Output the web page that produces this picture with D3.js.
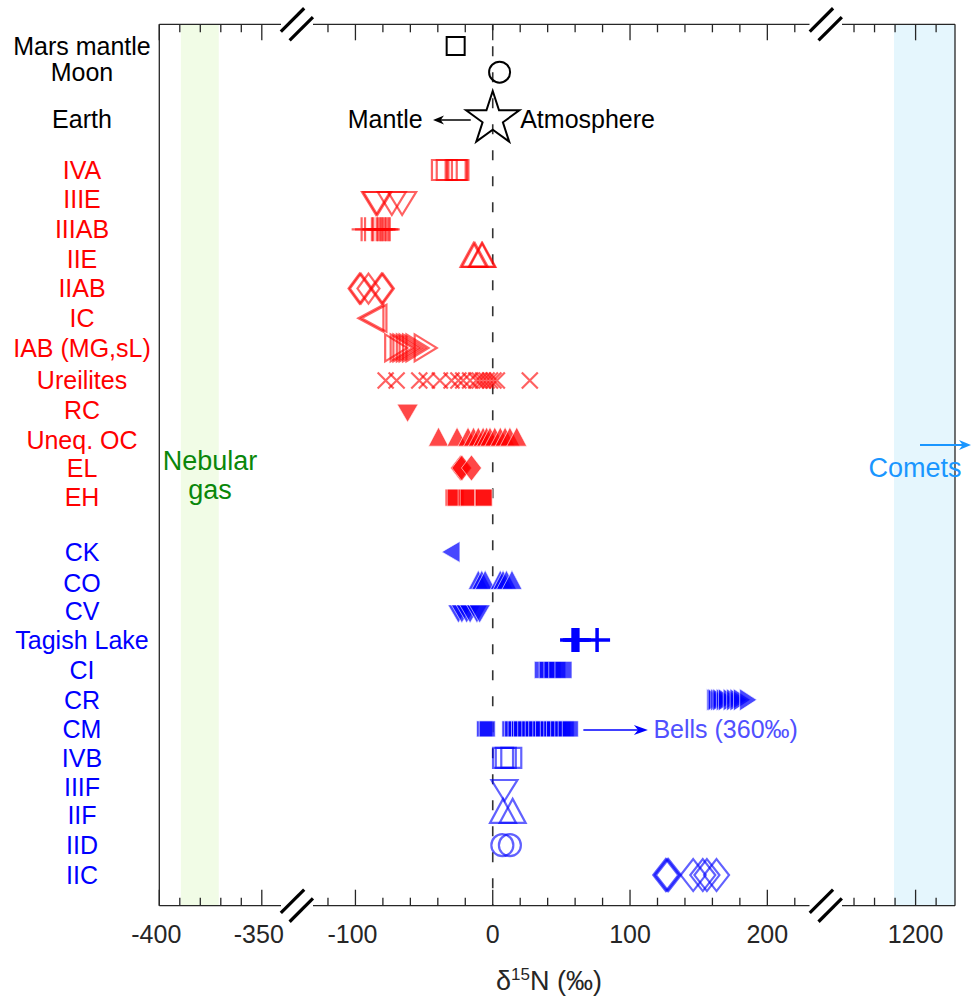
<!DOCTYPE html>
<html><head><meta charset="utf-8">
<script src="https://cdn.jsdelivr.net/npm/d3@7"></script>
<style>body{margin:0;background:#fff}svg{display:block}text{font-family:"Liberation Sans",Arial,Helvetica,sans-serif}</style>
</head><body><svg id="c" width="971" height="998"></svg>
<script>
// ---------------- DATA ----------------
const categories = ["Mars mantle","Moon","Earth","IVA","IIIE","IIIAB","IIE","IIAB","IC","IAB (MG,sL)","Ureilites","RC","Uneq. OC","EL","EH","CK","CO","CV","Tagish Lake","CI","CR","CM","IVB","IIIF","IIF","IID","IIC"];
const categoryGroup = ["planet","planet","planet","NC","NC","NC","NC","NC","NC","NC","NC","NC","NC","NC","NC","CC","CC","CC","CC","CC","CC","CC","CC","CC","CC","CC","CC"];
const categoryRow = [-4.18,-3.3,-1.72,0,1,2,3,4,5,6,7.1,8.1,9.1,10.05,11.05,12.88,13.93,14.87,15.85,16.86,17.87,18.85,19.83,20.81,21.75,22.77,23.78];

const marsMantle = [-27];
const moon = [5];
const earth = [0];
const iva = [-37, -33.5, -27, -26, -25];
const iiie = [-85, -84, -73.5, -66];
const iiiab = [-95.5, -93, -88, -87, -84.5, -83.5, -82, -81, -80, -78.5, -77.5, -76, -75];
const iie = [-14, -13, -8, -7.5];
const iiab = [-97, -96, -90.5, -81, -80];
const ic = [-85.7, -83.5];
const iab = [-73, -69, -67, -64.5, -62.5, -60, -57.5, -51.5];
const ureilites = [-78, -70, -53.5, -48, -38.5, -30, -25, -21.5, -16.5, -12, -9.5, -7, -4.5, -2, 0.5, 3, 27];
const rc = [-62];
const uneqOC = [-39.5, -26, -18, -14, -10.5, -7, -4.5, -2, 1.5, 5.5, 9, 12.5, 17.5];
const el = [-23.5, -22.5, -15.5];
const eh = [-28.5, -27, -19, -17.5, -7, -6.5];
const ck = [-28.3];
const co = [-10.5, -8, -5.5, 5.5, 7.5, 10, 14];
const cv = [-25, -22.5, -19, -16.5, -11.5, -9.5];
const tagishLake = [58.5, 60.5, 62, 76];
const ci = [36.5, 40, 43.5, 47, 51.5];
const cr = [160, 161, 163, 164.5, 167, 168.5, 172, 174.5, 177, 179.5, 184];
const cm = [-6, -4, 12.5, 14.5, 17, 19.5, 21, 24, 27, 29.5, 32, 35, 37, 40.5, 43, 45, 48, 51, 53.5, 56.5];
const ivb = [7.5, 9.5, 13.5];
const iiif = [8.5];
const iif = [7.5, 14.5];
const iid = [7, 12.5];
const iic = [126, 127, 128, 146, 153, 156, 163];

const nebularGasRange = [-389.5, -371];
const cometsRange = [1189.5, 1230];

const leftMajor = [-400, -350], leftMinor = [-390, -380, -370, -360];
const midMajor = [-100, 0, 100, 200], midMinor = [-120, -80, -60, -40, -20, 20, 40, 60, 80, 120, 140, 160, 180, 220];
const rightMajor = [1200], rightMinor = [1170, 1180, 1190, 1210];
const tickLabels = ["-400", "-350", "-100", "0", "100", "200", "1200"];

// ---------------- SERIES TABLE ----------------
const series = [
  {cat:"Mars mantle", v:marsMantle, m:"marsSq"},
  {cat:"Moon", v:moon, m:"moonCircle"},
  {cat:"Earth", v:earth, m:"star"},
  {cat:"IVA", v:iva, m:"sqOpen"},
  {cat:"IIIE", v:iiie, m:"triDownOpenWide"},
  {cat:"IIIAB", v:iiiab, m:"plus"},
  {cat:"IIE", v:iie, m:"triUpOpen"},
  {cat:"IIAB", v:iiab, m:"diaOpen"},
  {cat:"IC", v:ic, m:"triLeftOpen"},
  {cat:"IAB (MG,sL)", v:iab, m:"triRightOpen"},
  {cat:"Ureilites", v:ureilites, m:"cross"},
  {cat:"RC", v:rc, m:"triDownFill"},
  {cat:"Uneq. OC", v:uneqOC, m:"triUpFill"},
  {cat:"EL", v:el, m:"diaFill"},
  {cat:"EH", v:eh, m:"sqFill"},
  {cat:"CK", v:ck, m:"triLeftFill"},
  {cat:"CO", v:co, m:"triUpFill"},
  {cat:"CV", v:cv, m:"triDownFill"},
  {cat:"Tagish Lake", v:tagishLake, m:"plusBold"},
  {cat:"CI", v:ci, m:"sqFill"},
  {cat:"CR", v:cr, m:"triRightFill"},
  {cat:"CM", v:cm, m:"sqFillSmall"},
  {cat:"IVB", v:ivb, m:"sqOpen"},
  {cat:"IIIF", v:iiif, m:"triDownOpen"},
  {cat:"IIF", v:iif, m:"triUpOpen"},
  {cat:"IID", v:iid, m:"circleOpen"},
  {cat:"IIC", v:iic, m:"diaOpenBig"}
];

// ---------------- LAYOUT ----------------
const svg = d3.select("#c");
const pTop = 24.3, pBottom = 905.7, pLeft = 159.3, pRight = 955;
const xL = d3.scaleLinear().domain([-400, -340]).range([pLeft, 282.3]);
const xM = d3.scaleLinear().domain([-132, 231]).range([311.5, 809.9]);
const xR = d3.scaleLinear().domain([1164, 1219.2]).range([841.7, pRight]);
function xOf(v){ if (v <= -300) return xL(v); if (v >= 1000) return xR(v); return xM(v); }
const y = d3.scaleLinear().domain([0, 11]).range([170, 496.15]);
const rowOf = c => categoryRow[categories.indexOf(c)];

const RED = "#ff0000", BLUE = "#0000ff";
const groupColor = {planet:"#000", NC:RED, CC:BLUE};
const FS = 25;

// bands
svg.append("rect").attr("x", xL(nebularGasRange[0])).attr("y", pTop)
  .attr("width", xL(nebularGasRange[1]) - xL(nebularGasRange[0])).attr("height", pBottom - pTop)
  .attr("fill", "#f1fce6");
svg.append("rect").attr("x", xR(cometsRange[0])).attr("y", pTop)
  .attr("width", pRight - xR(cometsRange[0])).attr("height", pBottom - pTop)
  .attr("fill", "#e5f6fd");

// zero dashed line
svg.append("line").attr("x1", xM(0)).attr("x2", xM(0)).attr("y1", pTop).attr("y2", pBottom)
  .attr("stroke", "#333").attr("stroke-width", 1.6).attr("stroke-dasharray", "10,16").attr("stroke-dashoffset", 4);

// axes frame
const axisColor = "#262626";
const segs = [[pLeft, 281], [313, 809.5], [842, pRight]];
[pTop, pBottom].forEach(yy => segs.forEach(s => svg.append("line").attr("x1", s[0]).attr("x2", s[1])
  .attr("y1", yy).attr("y2", yy).attr("stroke", axisColor).attr("stroke-width", 1.3)));
[pLeft, pRight].forEach(xx => svg.append("line").attr("x1", xx).attr("x2", xx).attr("y1", pTop).attr("y2", pBottom)
  .attr("stroke", axisColor).attr("stroke-width", 1.3));

function ticks(scale, vals, len){
  vals.forEach(v => {
    const xx = scale(v);
    svg.append("line").attr("x1", xx).attr("x2", xx).attr("y1", pBottom).attr("y2", pBottom - len).attr("stroke", axisColor).attr("stroke-width", 1.3);
    svg.append("line").attr("x1", xx).attr("x2", xx).attr("y1", pTop).attr("y2", pTop + len).attr("stroke", axisColor).attr("stroke-width", 1.3);
  });
}
ticks(xL, leftMajor, 16); ticks(xL, leftMinor, 8);
ticks(xM, midMajor, 16); ticks(xM, midMinor, 8);
ticks(xR, rightMajor, 16); ticks(xR, rightMinor, 8);

const labelVals = [...leftMajor, ...midMajor, ...rightMajor];
labelVals.forEach((v, i) => {
  svg.append("text").attr("x", xOf(v) - (v < 0 ? 3 : 0)).attr("y", 943).attr("text-anchor", "middle")
    .attr("font-size", FS).attr("fill", "#262626").text(tickLabels[i]);
});

// break marks
function breakMark(cx, cy){
  const h = 16.5, o = 6.2;
  [-1, 1].forEach(s => {
    const ox = cx + s*o*Math.SQRT1_2, oy = cy + s*o*Math.SQRT1_2;
    svg.append("line").attr("x1", ox - h*Math.SQRT1_2).attr("y1", oy + h*Math.SQRT1_2)
      .attr("x2", ox + h*Math.SQRT1_2).attr("y2", oy - h*Math.SQRT1_2)
      .attr("stroke", "#000").attr("stroke-width", 3.2);
  });
}
const gapL = (xL.range()[1] + xM.range()[0]) / 2, gapR = (xM.range()[1] + xR.range()[0]) / 2;
breakMark(gapL, pTop); breakMark(gapR, pTop); breakMark(gapL, pBottom); breakMark(gapR, pBottom);

// x title
const xt = svg.append("text").attr("x", 549).attr("y", 990).attr("text-anchor", "middle").attr("font-size", 27).attr("fill", "#262626");
xt.append("tspan").text("δ");
xt.append("tspan").attr("font-size", 17).attr("dy", -10).text("15");
xt.append("tspan").attr("dy", 10).text("N (‰)");

// category labels
categories.forEach((c, i) => {
  svg.append("text").attr("x", 82).attr("y", y(categoryRow[i])).attr("dy", "0.35em")
    .attr("text-anchor", "middle").attr("font-size", FS).attr("fill", groupColor[categoryGroup[i]]).text(c);
});

// ---------------- MARKERS ----------------
const line = d3.line().curve(d3.curveLinearClosed);
const sq = (w, h) => line([[-w/2,-h/2],[w/2,-h/2],[w/2,h/2],[-w/2,h/2]]);
const dia = (w, h) => line([[0,-h/2],[w/2,0],[0,h/2],[-w/2,0]]);
const tUp = (w, h) => line([[0,-2*h/3],[w/2,h/3],[-w/2,h/3]]);
const tDown = (w, h) => line([[0,2*h/3],[w/2,-h/3],[-w/2,-h/3]]);
const tLeft = (w, h) => line([[-2*w/3,0],[w/3,-h/2],[w/3,h/2]]);
const tRight = (w, h) => line([[2*w/3,0],[-w/3,-h/2],[-w/3,h/2]]);
const plusP = (w, h) => `M${-w/2},0H${w/2}M0,${-h/2}V${h/2}`;
const crossP = s => `M${-s/2},${-s/2}L${s/2},${s/2}M${-s/2},${s/2}L${s/2},${-s/2}`;
function circleP(r){ const p = d3.path(); p.arc(0,0,r,0,2*Math.PI); p.closePath(); return p.toString(); }
function starP(R){ const pts = []; const r = R*0.382;
  for (let k=0;k<10;k++){ const a = -Math.PI/2 + k*Math.PI/5; const rr = k%2===0?R:r; pts.push([rr*Math.cos(a), rr*Math.sin(a)]); }
  return line(pts); }

const openSty = c => ({fill:"none", stroke:c, sw:2.2, op:0.62});
const fillSty = c => ({fill:c, stroke:"#fff", sw:0.7, op:0.72});
const markerDefs = {
  marsSq: {d: sq(18,18), sty:{fill:"none", stroke:"#000", sw:2, op:1}},
  moonCircle: {d: circleP(10.5), sty:{fill:"none", stroke:"#000", sw:2, op:1}},
  star: {d: starP(28), sty:{fill:"none", stroke:"#000", sw:2, op:1}},
  sqOpen: {d: sq(20,20)},
  triDownOpenWide: {d: tDown(28,23)},
  triDownOpen: {d: tDown(26,21)},
  plus: {d: plusP(20,24)},
  triUpOpen: {d: tUp(26,24)},
  diaOpen: {d: dia(22,30)},
  diaOpenBig: {d: dia(25,32)},
  triLeftOpen: {d: tLeft(25,27)},
  triRightOpen: {d: tRight(22,27)},
  cross: {d: crossP(16)},
  circleOpen: {d: circleP(11)},
  triDownFill: {d: tDown(21,18), filled:true},
  triUpFill: {d: tUp(20,19), filled:true},
  diaFill: {d: dia(20,26), filled:true},
  sqFill: {d: sq(17,17), filled:true},
  sqFillSmall: {d: sq(16,16), filled:true},
  triLeftFill: {d: tLeft(18,21), filled:true},
  triRightFill: {d: tRight(17,22), filled:true},
  plusBold: {d: plusP(26,24), sty:{fill:"none", stroke:BLUE, sw:3.5, op:1}}
};

const mg = svg.append("g");
series.forEach(s => {
  const def = markerDefs[s.m];
  const color = groupColor[categoryGroup[categories.indexOf(s.cat)]];
  const st = def.sty || (def.filled ? fillSty(color) : openSty(color));
  const yy = y(rowOf(s.cat));
  s.v.forEach(v => {
    const p = mg.append("path").attr("d", def.d).attr("transform", `translate(${xOf(v)},${yy})`);
    if (def.filled) {
      p.attr("fill", st.fill).attr("fill-opacity", st.op).attr("stroke", st.stroke).attr("stroke-width", st.sw).attr("stroke-opacity", 0.85);
    } else {
      p.attr("fill", "none").attr("stroke", st.stroke).attr("stroke-width", st.sw).attr("stroke-opacity", st.op);
    }
  });
});

// ---------------- ANNOTATIONS ----------------
function arrow(x1, x2, yy, color, head, hw, sw){
  svg.append("line").attr("x1", x1).attr("x2", x2 + (x2 > x1 ? -head*0.6 : head*0.6)).attr("y1", yy).attr("y2", yy).attr("stroke", color).attr("stroke-width", sw);
  const d = x2 > x1 ? 1 : -1;
  svg.append("path").attr("d", line([[x2, yy], [x2 - d*head, yy - hw], [x2 - d*head*0.7, yy], [x2 - d*head, yy + hw]])).attr("fill", color);
}
const yEarth = y(rowOf("Earth"));
arrow(xM(0) - 22, xM(-43.5), yEarth + 1, "#000", 11, 4.5, 1.5);
svg.append("text").attr("x", xM(-51)).attr("y", yEarth).attr("dy", "0.35em").attr("text-anchor", "end").attr("font-size", FS).text("Mantle");
svg.append("text").attr("x", xM(20)).attr("y", yEarth).attr("dy", "0.35em").attr("font-size", FS).text("Atmosphere");

const yCM = y(rowOf("CM"));
arrow(xM(66), xM(113), yCM + 1, BLUE, 14, 5, 1.5);
svg.append("text").attr("x", xM(117)).attr("y", yCM).attr("dy", "0.35em").attr("font-size", FS).attr("fill", "#5050ff").text("Bells (360‰)");

// Nebular gas
const ng = svg.append("text").attr("text-anchor", "middle").attr("font-size", 27).attr("fill", "#0a870a");
ng.append("tspan").attr("x", 210).attr("y", 470).text("Nebular");
ng.append("tspan").attr("x", 210).attr("y", 499).text("gas");

// Comets
arrow(920, 971, 445, "#1a96ff", 12, 5, 2);
svg.append("text").attr("x", 915).attr("y", 477).attr("text-anchor", "middle").attr("font-size", 27).attr("fill", "#1a96ff").text("Comets");
</script></body></html>
